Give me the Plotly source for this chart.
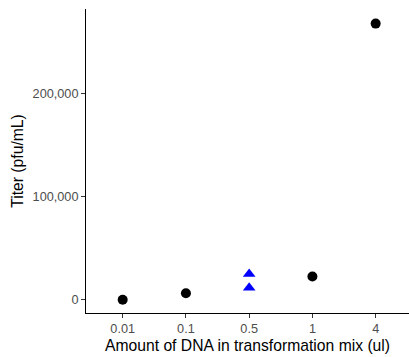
import plotly.graph_objects as go

categories = ["0.01", "0.1", "0.5", "1", "4"]
circle_x = ["0.01", "0.1", "1", "4"]
circle_y = [0, 6300, 22500, 268400]
triangle_x = ["0.5", "0.5"]
triangle_y = [25000, 11700]
y_ticks = [0, 100000, 200000]
y_tick_labels = ["0", "100,000", "200,000"]

fig = go.Figure()
fig.add_trace(go.Scatter(x=circle_x, y=circle_y, mode="markers",
                         marker=dict(symbol="circle", size=10, color="black"),
                         showlegend=False))
fig.add_trace(go.Scatter(x=triangle_x, y=triangle_y, mode="markers",
                         marker=dict(symbol="triangle-up", size=11, color="#0000FF"),
                         showlegend=False))

axis_common = dict(showline=True, linecolor="black", linewidth=1, ticks="outside",
                   ticklen=4, tickcolor="#333333", tickwidth=1, showgrid=False,
                   zeroline=False, mirror=False,
                   tickfont=dict(family="Liberation Sans, Arial", size=12.7, color="#4D4D4D"))

fig.update_layout(
    width=409, height=357,
    margin=dict(l=86, r=0, t=9, b=44),
    plot_bgcolor="white", paper_bgcolor="white",
    xaxis=dict(type="category", categoryorder="array", categoryarray=categories,
               range=[-0.58, 4.527],
               title=dict(text="Amount of DNA in transformation mix (ul)", standoff=4,
                          font=dict(family="Liberation Sans, Arial", size=15.7, color="black")),
               **axis_common),
    yaxis=dict(range=[-12900, 282600], tickvals=y_ticks, ticktext=y_tick_labels,
               title=dict(text="Titer (pfu/mL)", standoff=5,
                          font=dict(family="Liberation Sans, Arial", size=15.7, color="black")),
               **axis_common),
)
fig.write_html("out.html")
